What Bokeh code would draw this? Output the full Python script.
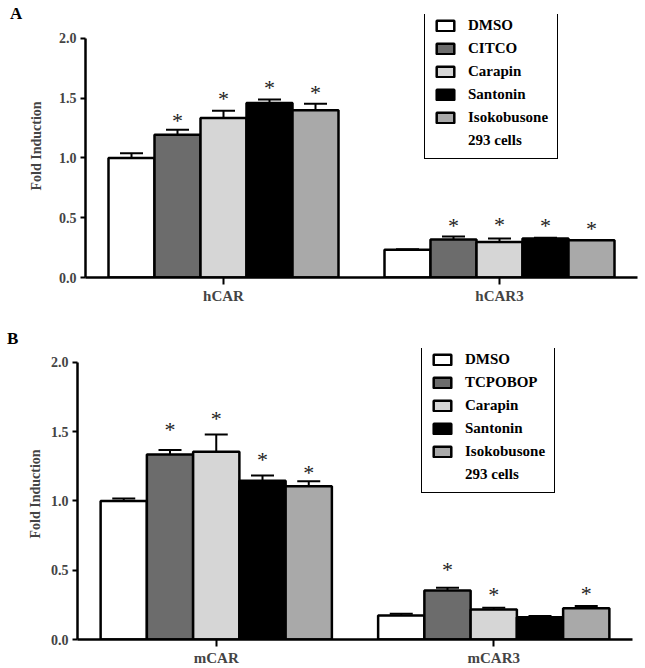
from bokeh.plotting import figure
from bokeh.models import (Range1d, FixedTicker, Legend, LegendItem, Whisker, Div,
                          ColumnDataSource, TeeHead, NumeralTickFormatter)
from bokeh.layouts import column, row
from bokeh.embed import file_html
from bokeh.resources import INLINE
from bokeh.core.properties import value

# ---------------- data ----------------
treatments_a = ["DMSO", "CITCO", "Carapin", "Santonin", "Isokobusone"]
treatments_b = ["DMSO", "TCPOBOP", "Carapin", "Santonin", "Isokobusone"]
colors = ["#ffffff", "#6c6c6c", "#d6d6d6", "#000000", "#a9a9a9"]
y_ticks = [0.0, 0.5, 1.0, 1.5, 2.0]

groups_a = ["hCAR", "hCAR3"]
mean_hcar = [1.00, 1.195, 1.335, 1.46, 1.40]
err_hcar = [1.04, 1.236, 1.395, 1.49, 1.453]
star_hcar = [None, 1.33, 1.51, 1.607, 1.565]
mean_hcar3 = [0.232, 0.318, 0.298, 0.326, 0.312]
err_hcar3 = [0.236, 0.343, 0.326, 0.333, 0.314]
star_hcar3 = [None, 0.449, 0.463, 0.454, 0.427]

groups_b = ["mCAR", "mCAR3"]
mean_mcar = [1.00, 1.335, 1.354, 1.145, 1.106]
err_mcar = [1.017, 1.367, 1.48, 1.184, 1.142]
star_mcar = [None, 1.533, 1.607, 1.311, 1.222]
mean_mcar3 = [0.174, 0.354, 0.217, 0.161, 0.226]
err_mcar3 = [0.186, 0.374, 0.229, 0.17, 0.241]
star_mcar3 = [None, 0.523, 0.342, None, 0.349]

FONT = "'Liberation Serif', 'Times New Roman', serif"
LEFT_W = 22


def make_panel(letter, groups, treatments, means, errs, stars, y_top,
               height, border_left, border_top, border_bottom, border_right,
               legend_loc, letter_pad, label_standoff):
    p = figure(width=640 - LEFT_W, height=height, output_backend="svg", toolbar_location=None,
               x_range=Range1d(0, 12), y_range=Range1d(0, y_top),
               min_border_left=border_left - LEFT_W, min_border_right=border_right,
               min_border_top=border_top, min_border_bottom=border_bottom)
    p.outline_line_color = None
    p.xgrid.visible = False
    p.ygrid.visible = False
    p.background_fill_color = "white"

    centers = [3, 9]
    items = []
    for i, name in enumerate(treatments):
        xs = [c + (i - 2) for c in centers]
        tops = [means[0][i], means[1][i]]
        ups = [errs[0][i], errs[1][i]]
        src = ColumnDataSource(dict(x=xs, top=tops, upper=ups))
        r = p.vbar(x="x", top="top", width=1.0, bottom=0, source=src,
                   fill_color=colors[i], line_color="black", line_width=2.5)
        items.append(LegendItem(label=name, renderers=[r]))
        w = Whisker(base="x", lower="top", upper="upper", source=src, dimension="height",
                    line_color="black", line_width=2,
                    upper_head=TeeHead(size=23, line_width=2, line_color="black"),
                    lower_head=None)
        p.add_layout(w)
        sx, sy = [], []
        for g in range(2):
            if stars[g][i] is not None:
                sx.append(xs[g])
                sy.append(stars[g][i])
        if sx:
            p.text(x=sx, y=sy, text=["*"] * len(sx), text_font=value(FONT),
                   text_font_size="22px", text_align="center", text_baseline="middle",
                   text_color="#222222", y_offset=2)

    dummy = p.vbar(x=[], top=[], width=1, fill_alpha=0, line_alpha=0)
    items.append(LegendItem(label="293 cells", renderers=[dummy]))

    leg = Legend(items=items, location=legend_loc,
                 label_text_font=FONT, label_text_font_style="bold",
                 label_text_font_size="15px", label_text_color="black",
                 glyph_width=22, glyph_height=13, label_height=14, spacing=6,
                 label_standoff=12, padding=9, margin=0,
                 border_line_color="black", border_line_width=1.5, border_line_alpha=1.0,
                 background_fill_alpha=1.0)
    p.add_layout(leg)

    # axes
    ya = p.yaxis[0]
    ya.ticker = FixedTicker(ticks=y_ticks)
    ya.formatter = NumeralTickFormatter(format="0.0")
    ya.bounds = (0, 2.0)
    ya.axis_line_width = 2.5
    ya.major_tick_line_width = 2
    ya.major_tick_out = 5
    ya.major_tick_in = 0
    ya.minor_tick_line_color = None
    ya.major_label_text_font = FONT
    ya.major_label_text_font_style = "bold"
    ya.major_label_text_font_size = "14px"
    ya.major_label_standoff = 4
    ya.axis_label = "Fold Induction"
    ya.axis_label_text_font = FONT
    ya.axis_label_text_font_style = "bold"
    ya.axis_label_text_font_size = "14px"
    ya.axis_label_standoff = label_standoff

    xa = p.xaxis[0]
    xa.ticker = FixedTicker(ticks=centers)
    xa.major_label_overrides = {3: groups[0], 9: groups[1]}
    xa.axis_line_width = 2.5
    xa.major_tick_line_width = 2
    xa.major_tick_out = 7
    xa.major_tick_in = 0
    xa.minor_tick_line_color = None
    xa.major_label_text_font = FONT
    xa.major_label_text_font_style = "bold"
    xa.major_label_text_font_size = "15px"
    xa.major_label_standoff = 3

    div = Div(text=letter, width=LEFT_W, height=30, margin=0,
              styles={"font-family": FONT, "font-weight": "bold", "font-size": "17px",
                      "padding-left": "%dpx" % letter_pad[0], "padding-top": "%dpx" % letter_pad[1],
                      "color": "black", "line-height": "1.15"})
    return row(div, p, spacing=0)


pa = make_panel("A", groups_a, treatments_a, [mean_hcar, mean_hcar3], [err_hcar, err_hcar3],
                [star_hcar, star_hcar3], 2.2, 325, 85, 14, 48, 3,
                (339, 118), (10, 4), 12)
pb = make_panel("B", groups_b, treatments_b, [mean_mcar, mean_mcar3], [err_mcar, err_mcar3],
                [star_mcar, star_mcar3], 2.1, 343, 77, 23, 29, 8,
                (344, 146), (7, 4), 5)

layout = column(pa, pb, spacing=0)
open("out.html", "w").write(file_html(layout, INLINE))
